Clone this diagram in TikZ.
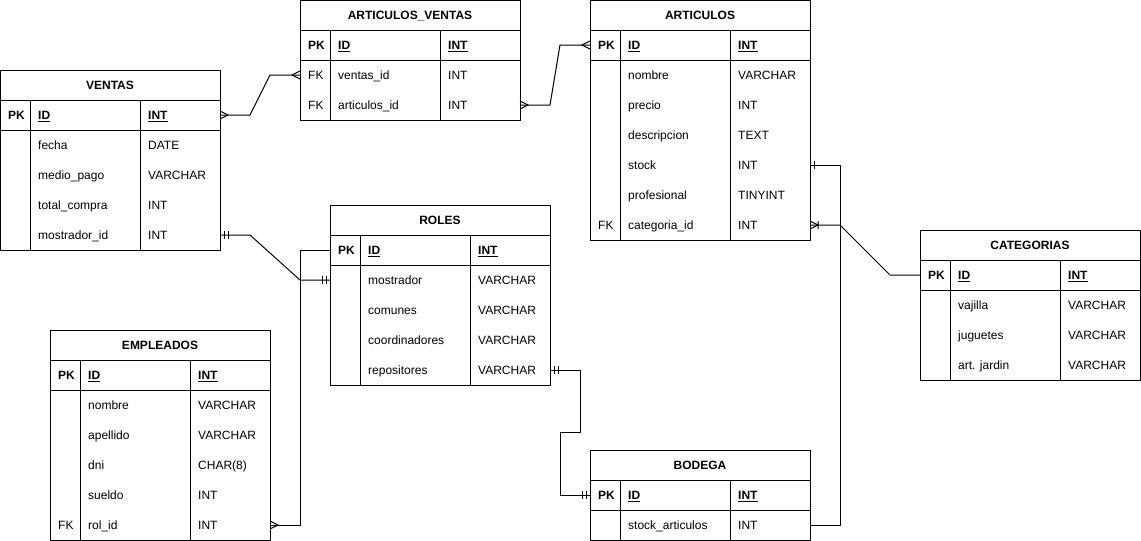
\documentclass[tikz,border=0pt]{standalone}
\usepackage{fontspec}
\setmainfont{Liberation Sans}
\usetikzlibrary{calc}
\newcommand{\erfont}{\fontsize{12}{14}\selectfont}
\tikzset{
  tabline/.style={draw=black, line width=1pt},
  tabhead/.style={tabline, anchor=north west, minimum width=220pt, minimum height=30pt,
    inner sep=0pt, outer sep=0pt, text height=8.6pt, text depth=0pt, font=\erfont\bfseries},
  tabrow/.style={anchor=north, minimum width=220pt, minimum height=30pt, inner sep=0pt, outer sep=0pt},
  cell/.style={anchor=west, inner sep=0pt, text height=8.6pt, text depth=0pt, font=\erfont},
  pkcell/.style={cell, font=\erfont\bfseries},
  link/.style={draw=black, line width=1pt},
  crowfoot/.pic={\draw[link] (0,-4) -- (8,0) -- (0,4);},
  twobar/.pic={\draw[link] (4,-4) -- (4,4) (8,-4) -- (8,4);},
  onebar/.pic={\draw[link] (4,-4) -- (4,4);},
  barfoot/.pic={\draw[link] (0,-4) -- (8,0) -- (0,4) (8,-4) -- (8,4);},
}
% #1 name, #2 top left, #3 title, #4 key/field/type rows
\newcommand{\ertable}[4]{%
  \node[tabhead] (#1) at (#2) {#3};
  \foreach \k/\f/\t [count=\i] in {#4} {
    \node[tabrow] (#1-\i) at ($(#1.south)+(0,{30*(\i-1)})$) {};
    \ifnum\i=1
      \node[pkcell] at ([xshift=8pt]#1-\i.west) {\k};
      \node[pkcell] at ([xshift=38pt]#1-\i.west) {\underline{\f}};
      \node[pkcell] at ([xshift=148pt]#1-\i.west) {\underline{\t}};
    \else
      \node[cell] at ([xshift=8pt]#1-\i.west) {\k};
      \node[cell] at ([xshift=38pt]#1-\i.west) {\f};
      \node[cell] at ([xshift=148pt]#1-\i.west) {\t};
    \fi
    \xdef\lastrow{\i}
  }
  \draw[tabline] (#1.south west) rectangle (#1-\lastrow.south east);
  \draw[tabline] (#1-1.south west) -- (#1-1.south east);
  \draw[tabline] ([xshift=30pt]#1.south west) -- ([xshift=30pt]#1-\lastrow.south west);
  \draw[tabline] ([xshift=140pt]#1.south west) -- ([xshift=140pt]#1-\lastrow.south west);
}

\begin{document}
\begin{tikzpicture}[x=1pt, y=-1pt]
  \useasboundingbox (0,0) rectangle (1141,541);

  \ertable{artv}{300,0}{ARTICULOS\_VENTAS}{PK/ID/INT, FK/ventas\_id/INT, FK/articulos\_id/INT}
  \ertable{vent}{0,70}{VENTAS}{PK/ID/INT, {}/fecha/DATE, {}/medio\_pago/VARCHAR,
    {}/total\_compra/INT, {}/mostrador\_id/INT}
  \ertable{arti}{590,0}{ARTICULOS}{PK/ID/INT, {}/nombre/VARCHAR, {}/precio/INT,
    {}/descripcion/TEXT, {}/stock/INT, {}/profesional/TINYINT, FK/categoria\_id/INT}
  \ertable{rol}{330,205}{ROLES}{PK/ID/INT, {}/mostrador/VARCHAR, {}/comunes/VARCHAR,
    {}/coordinadores/VARCHAR, {}/repositores/VARCHAR}
  \ertable{emp}{50,330}{EMPLEADOS}{PK/ID/INT, {}/nombre/VARCHAR, {}/apellido/VARCHAR,
    {}/dni/CHAR(8), {}/sueldo/INT, FK/rol\_id/INT}
  \ertable{cat}{920,230}{CATEGORIAS}{PK/ID/INT, {}/vajilla/VARCHAR, {}/juguetes/VARCHAR,
    {}/art. jardin/VARCHAR}
  \ertable{bod}{590,450}{BODEGA}{PK/ID/INT, {}/stock\_articulos/INT}

  % relations
  \draw[link] (vent-1.east) -- ++(30,0) -- ([xshift=-30pt]artv-2.west) -- (artv-2.west);
  \pic at (vent-1.east) {crowfoot};
  \pic[xscale=-1] at (artv-2.west) {crowfoot};

  \draw[link] (artv-3.east) -- ++(30,0) -- ([xshift=-30pt]arti-1.west) -- (arti-1.west);
  \pic at (artv-3.east) {crowfoot};
  \pic[xscale=-1] at (arti-1.west) {crowfoot};

  \draw[link] (vent-5.east) -- ++(30,0) -- ([xshift=-30pt]rol-2.west) -- (rol-2.west);
  \pic at (vent-5.east) {twobar};
  \pic[xscale=-1] at (rol-2.west) {twobar};

  \draw[link] (emp-6.east) -- ++(30,0) |- (rol-1.west);
  \pic at (emp-6.east) {crowfoot};

  \draw[link] (rol-5.east) -- ++(30,0) -- ++(0,62.5) -| ([xshift=-30pt]bod-1.west) -- (bod-1.west);
  \pic at (rol-5.east) {twobar};
  \pic[xscale=-1] at (bod-1.west) {twobar};

  \draw[link] (arti-5.east) -- ++(30,0) |- (bod-2.east);
  \pic at (arti-5.east) {onebar};

  \draw[link] (arti-7.east) -- ++(30,0) -- ([xshift=-30pt]cat-1.west) -- (cat-1.west);
  \pic at (arti-7.east) {barfoot};
\end{tikzpicture}
\end{document}
